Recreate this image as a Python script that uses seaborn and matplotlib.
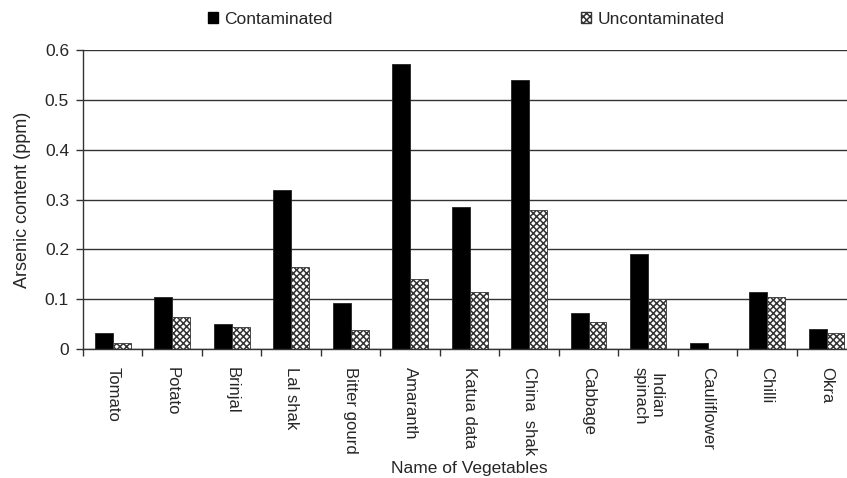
import pandas as pd
import numpy as np
import matplotlib.pyplot as plt
import seaborn as sns
from matplotlib.patches import Patch

vegetables = ["Tomato", "Potato", "Brinjal", "Lal shak", "Bitter gourd", "Amaranth",
              "Katua data", "China  shak", "Cabbage", "Indian\nspinach", "Cauliflower",
              "Chilli", "Okra"]
contaminated = [0.032, 0.105, 0.050, 0.320, 0.093, 0.572, 0.285, 0.540, 0.072, 0.190, 0.011, 0.115, 0.040]
uncontaminated = [0.012, 0.065, 0.045, 0.165, 0.038, 0.140, 0.115, 0.280, 0.055, 0.100, 0.0, 0.105, 0.032]

data = pd.DataFrame({
    "veg": vegetables * 2,
    "value": contaminated + uncontaminated,
    "group": ["Contaminated"] * 13 + ["Uncontaminated"] * 13,
})

sns.set_style('white')
plt.rcParams['font.family'] = ['Liberation Sans', 'DejaVu Sans']
plt.rcParams['hatch.linewidth'] = 1.1

fig = plt.figure(figsize=(8.47, 4.78), dpi=100)
ax = fig.add_axes([0.098, 0.270, 0.913, 0.625])

sns.barplot(data=data, x="veg", y="value", hue="group", order=vegetables,
            palette=["black", "white"], width=0.6, legend=False, ax=ax, saturation=1)

n = len(vegetables)
for i, p in enumerate(ax.patches[:2 * n]):
    if i < n:
        p.set_edgecolor("#222222")
        p.set_linewidth(0.6)
    else:
        p.set_facecolor("white")
        p.set_edgecolor("#333333")
        p.set_hatch("xxxxx")
        p.set_linewidth(0.6)

ax.set_ylim(0, 0.6)
ax.set_xlim(-0.5, n - 0.5)
ax.set_yticks(np.arange(0, 0.61, 0.1))
ax.set_yticklabels(["0", "0.1", "0.2", "0.3", "0.4", "0.5", "0.6"], fontsize=12.5)
ax.yaxis.grid(True, color="#333333", linewidth=1.0)
ax.set_axisbelow(True)

for s in ["top", "right"]:
    ax.spines[s].set_visible(False)
for s in ["left", "bottom"]:
    ax.spines[s].set_color("#333333")
    ax.spines[s].set_linewidth(1.0)

# tick marks sit between categories, labels at centres
ax.set_xticks(np.arange(-0.5, n, 1.0), minor=True)
ax.set_xticks(np.arange(n))
ax.set_xticklabels(vegetables, rotation=270, fontsize=12, va="top", ha="center",
                   linespacing=1.1)
ax.tick_params(axis="x", which="major", length=0, pad=13)
ax.tick_params(axis="x", which="minor", length=5, width=1, color="#333333", direction="out", bottom=True)
ax.tick_params(axis="y", length=5, width=1, color="#333333", direction="out", left=True, pad=5)

ax.set_ylabel("Arsenic content (ppm)", fontsize=13, labelpad=10)
ax.set_xlabel("Name of Vegetables", fontsize=12.5, labelpad=4)

h1 = Patch(facecolor="black", edgecolor="black", label="Contaminated")
h2 = Patch(facecolor="white", edgecolor="#333333", hatch="xxxxx", label="Uncontaminated")
fig.legend(handles=[h1, h2], ncol=2, loc="center", bbox_to_anchor=(0.55, 0.96),
           frameon=False, fontsize=12.5, handlelength=0.6, handleheight=0.6,
           handletextpad=0.35, columnspacing=14.3)

fig.savefig("out.png", dpi=100)
